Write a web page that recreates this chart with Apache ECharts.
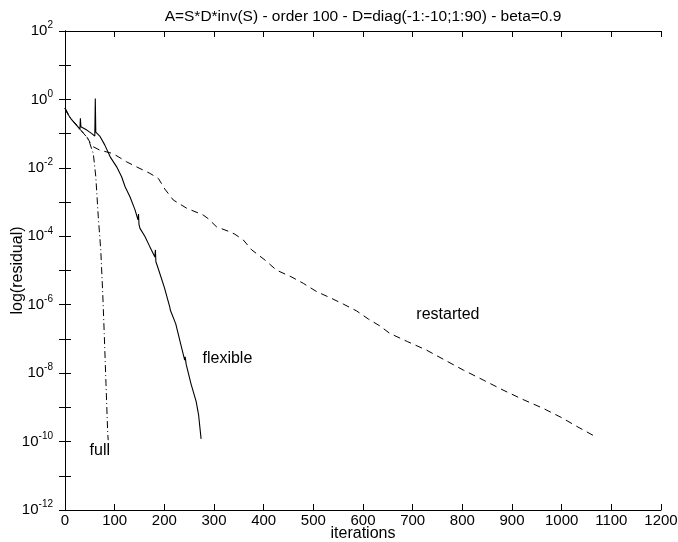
<!DOCTYPE html>
<html>
<head>
<meta charset="utf-8">
<script src="https://cdn.jsdelivr.net/npm/echarts@6/dist/echarts.min.js"></script>
<style>html,body{margin:0;padding:0;background:#fff}#c{width:678px;height:542px}</style>
</head>
<body>
<div id="c"></div>
<script>
// iterations and residuals
const fullIter = [0, 7, 13, 24, 30, 35, 45, 50, 57, 62, 67, 72, 76, 79, 82.5, 86, 87];
const fullRes = [0.55, 0.35, 0.26, 0.178, 0.135, 0.112, 0.076, 0.052, 0.026, 0.0055, 3.7e-4, 4.0e-5, 2.1e-6, 1.45e-7, 5e-9, 1.74e-10, 1.1e-10];

const flexIter = [0, 7, 13, 23, 30, 31, 32, 44, 54, 60, 61, 62, 70, 80, 91, 104, 114, 121, 131, 141, 147, 148, 149, 151, 161, 171, 181, 182, 183, 186, 200, 211, 212, 213, 223, 233, 241, 242, 244, 254, 264, 269, 274];
const flexRes = [0.55, 0.35, 0.26, 0.178, 0.135, 0.28, 0.16, 0.127, 0.1, 0.085, 1.07, 0.11, 0.085, 0.047, 0.021, 0.0107, 0.0055, 0.0028, 0.0014, 5.9e-4, 3.0e-4, 4.5e-4, 2.2e-4, 1.7e-4, 9.8e-5, 4.9e-5, 2.5e-5, 4.0e-5, 1.8e-5, 1.35e-5, 3.2e-6, 8.5e-7, 7.0e-7, 6.8e-7, 2.75e-7, 7.1e-8, 2.4e-8, 3.0e-8, 1.8e-8, 4.7e-9, 1.5e-9, 6.0e-10, 1.2e-10];

const restIter = [0, 7, 13, 24, 30, 35, 45, 52, 56, 60, 70, 97, 124, 144, 171, 188, 201, 218, 245, 278, 288, 305, 332, 342, 359, 376, 403, 426, 455, 480, 507, 534, 560, 587, 611, 634, 654, 690, 728, 765, 802, 842, 882, 922, 963, 1000, 1030, 1064];
const restRes = [0.55, 0.35, 0.26, 0.178, 0.135, 0.112, 0.076, 0.05, 0.042, 0.041, 0.033, 0.026, 0.015, 0.0107, 0.0069, 0.0049, 0.0024, 0.00115, 6.6e-4, 4.2e-4, 3.3e-4, 1.9e-4, 1.35e-4, 1.15e-4, 7.8e-5, 4.0e-5, 2.0e-5, 1.02e-5, 6.6e-6, 4.2e-6, 2.4e-6, 1.6e-6, 1.05e-6, 6.6e-7, 3.8e-7, 2.4e-7, 1.45e-7, 8.3e-8, 4.7e-8, 2.4e-8, 1.23e-8, 6.3e-9, 3.2e-9, 1.7e-9, 9.3e-10, 5.0e-10, 2.8e-10, 1.5e-10];

const xTicks = [0, 100, 200, 300, 400, 500, 600, 700, 800, 900, 1000, 1100, 1200];
const labelText = ['full', 'flexible', 'restarted'];
const labelIter = [70, 327, 771];
const labelRes = [5.6e-11, 2.6e-8, 5e-7];
const titleText = 'A=S*D*inv(S) - order 100 - D=diag(-1:-10;1:90) - beta=0.9';

const FONT = 'Liberation Sans, Arial, Helvetica, sans-serif';
const zip = (a, b) => a.map((v, i) => [v, b[i]]);

function yLabel(v) {
  const e = Math.round(Math.log10(v));
  if (e % 2 !== 0) return '';
  return '{b|10}{s|' + e + '}';
}

const line = () => ({ show: true, lineStyle: { color: '#000', width: 1 } });
const tick = () => ({ show: true, inside: true, length: 6, lineStyle: { color: '#000', width: 1 } });

function mp(i) {
  return {
    symbol: 'circle', symbolSize: 0,
    label: { show: true, position: 'inside', formatter: labelText[i], color: '#000', fontSize: 16, fontFamily: FONT },
    data: [{ coord: [labelIter[i], labelRes[i]] }]
  };
}

const chart = echarts.init(document.getElementById('c'), null, { renderer: 'canvas' });
chart.setOption({
  animation: false,
  backgroundColor: '#fff',
  title: {
    text: titleText, left: 358, top: 4, textAlign: 'center',
    textStyle: { fontSize: 15.5, fontWeight: 'normal', color: '#000', fontFamily: FONT }
  },
  grid: { left: 65, right: 17, top: 31, bottom: 32, containLabel: false, outerBoundsMode: 'none', show: false },
  xAxis: [{
    type: 'value', min: xTicks[0], max: xTicks[xTicks.length - 1], interval: 100, position: 'bottom',
    axisLine: line(), axisTick: tick(), splitLine: { show: false },
    axisLabel: { color: '#000', fontSize: 15, fontFamily: FONT, margin: 3, formatter: v => String(v) },
    name: 'iterations', nameLocation: 'middle', nameGap: 16, nameMoveOverlap: false,
    nameTextStyle: { color: '#000', fontSize: 16, fontFamily: FONT }
  }, {
    type: 'value', min: xTicks[0], max: xTicks[xTicks.length - 1], interval: 100, position: 'top',
    axisLine: line(), axisTick: tick(), splitLine: { show: false }, axisLabel: { show: false }
  }],
  yAxis: [{
    type: 'log', logBase: 10, min: 1e-12, max: 1e2, interval: 1, position: 'left',
    axisLine: line(), axisTick: tick(), splitLine: { show: false }, minorTick: { show: false },
    axisLabel: {
      formatter: yLabel, margin: 12, color: '#000', fontFamily: FONT,
      rich: {
        b: { fontSize: 15, color: '#000', fontFamily: FONT },
        s: { fontSize: 10, color: '#000', fontFamily: FONT, padding: [0, 0, 11, 0] }
      }
    },
    name: 'log(residual)', nameLocation: 'middle', nameGap: 39, nameRotate: 90, nameMoveOverlap: false,
    nameTextStyle: { color: '#000', fontSize: 16, fontFamily: FONT }
  }, {
    type: 'log', logBase: 10, min: 1e-12, max: 1e2, interval: 1, position: 'right',
    axisLine: line(), axisTick: tick(), splitLine: { show: false }, axisLabel: { show: false }
  }],
  series: [{
    name: 'full', type: 'line', data: zip(fullIter, fullRes), showSymbol: false, symbol: 'none',
    lineStyle: { color: '#000', width: 1, type: [7, 3, 1, 3] }, markPoint: mp(0)
  }, {
    name: 'flexible', type: 'line', data: zip(flexIter, flexRes), showSymbol: false, symbol: 'none',
    lineStyle: { color: '#000', width: 1.1, type: 'solid' }, markPoint: mp(1)
  }, {
    name: 'restarted', type: 'line', data: zip(restIter, restRes), showSymbol: false, symbol: 'none',
    lineStyle: { color: '#000', width: 1, type: [7, 5] }, markPoint: mp(2)
  }]
});
</script>
</body>
</html>
